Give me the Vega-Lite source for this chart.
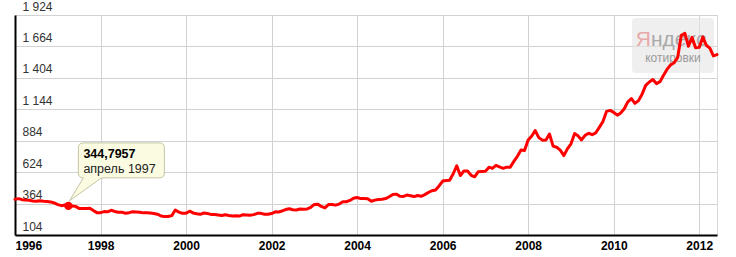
{
  "$schema": "https://vega.github.io/schema/vega-lite/v6.json",
  "width": 702,
  "height": 220,
  "autosize": {"type": "none"},
  "padding": {"left": 15, "top": 15, "right": 19, "bottom": 22},
  "background": "white",
  "config": {"font": "Liberation Sans", "view": {"stroke": "#d9d9d9", "strokeWidth": 1}},
  "datasets": {
    "gold": [
      {"d":"1996-01-01","v":399.5},{"d":"1996-02-01","v":404.8},{"d":"1996-03-01","v":396.2},{"d":"1996-04-01","v":392.8},{"d":"1996-05-01","v":391.9},{"d":"1996-06-01","v":385.3},{"d":"1996-07-01","v":383.5},{"d":"1996-08-01","v":387.5},{"d":"1996-09-01","v":383.1},{"d":"1996-10-01","v":381.1},{"d":"1996-11-01","v":377.9},{"d":"1996-12-01","v":369.0},
      {"d":"1997-01-01","v":355.0},{"d":"1997-02-01","v":346.6},{"d":"1997-03-01","v":351.8},{"d":"1997-04-01","v":344.7957},{"d":"1997-05-01","v":343.8},{"d":"1997-06-01","v":340.8},{"d":"1997-07-01","v":324.1},{"d":"1997-08-01","v":324.0},{"d":"1997-09-01","v":322.8},{"d":"1997-10-01","v":324.9},{"d":"1997-11-01","v":306.0},{"d":"1997-12-01","v":289.1},
      {"d":"1998-01-01","v":289.1},{"d":"1998-02-01","v":297.5},{"d":"1998-03-01","v":295.9},{"d":"1998-04-01","v":308.4},{"d":"1998-05-01","v":299.1},{"d":"1998-06-01","v":292.3},{"d":"1998-07-01","v":292.9},{"d":"1998-08-01","v":284.1},{"d":"1998-09-01","v":288.9},{"d":"1998-10-01","v":296.1},{"d":"1998-11-01","v":294.0},{"d":"1998-12-01","v":291.6},
      {"d":"1999-01-01","v":287.1},{"d":"1999-02-01","v":287.3},{"d":"1999-03-01","v":286.0},{"d":"1999-04-01","v":282.4},{"d":"1999-05-01","v":276.4},{"d":"1999-06-01","v":261.3},{"d":"1999-07-01","v":256.1},{"d":"1999-08-01","v":256.7},{"d":"1999-09-01","v":264.7},{"d":"1999-10-01","v":310.7},{"d":"1999-11-01","v":293.2},{"d":"1999-12-01","v":283.1},
      {"d":"2000-01-01","v":284.6},{"d":"2000-02-01","v":300.9},{"d":"2000-03-01","v":286.4},{"d":"2000-04-01","v":280.0},{"d":"2000-05-01","v":275.3},{"d":"2000-06-01","v":285.7},{"d":"2000-07-01","v":281.6},{"d":"2000-08-01","v":274.5},{"d":"2000-09-01","v":273.7},{"d":"2000-10-01","v":270.1},{"d":"2000-11-01","v":265.9},{"d":"2000-12-01","v":271.4},
      {"d":"2001-01-01","v":265.5},{"d":"2001-02-01","v":261.9},{"d":"2001-03-01","v":263.0},{"d":"2001-04-01","v":260.5},{"d":"2001-05-01","v":272.4},{"d":"2001-06-01","v":270.2},{"d":"2001-07-01","v":267.5},{"d":"2001-08-01","v":272.4},{"d":"2001-09-01","v":283.4},{"d":"2001-10-01","v":283.1},{"d":"2001-11-01","v":276.2},{"d":"2001-12-01","v":275.9},
      {"d":"2002-01-01","v":281.7},{"d":"2002-02-01","v":295.5},{"d":"2002-03-01","v":294.0},{"d":"2002-04-01","v":302.7},{"d":"2002-05-01","v":314.5},{"d":"2002-06-01","v":321.2},{"d":"2002-07-01","v":313.3},{"d":"2002-08-01","v":310.3},{"d":"2002-09-01","v":319.2},{"d":"2002-10-01","v":316.6},{"d":"2002-11-01","v":319.2},{"d":"2002-12-01","v":332.6},
      {"d":"2003-01-01","v":356.9},{"d":"2003-02-01","v":359.0},{"d":"2003-03-01","v":340.6},{"d":"2003-04-01","v":328.2},{"d":"2003-05-01","v":355.7},{"d":"2003-06-01","v":356.4},{"d":"2003-07-01","v":351.0},{"d":"2003-08-01","v":359.8},{"d":"2003-09-01","v":378.9},{"d":"2003-10-01","v":378.9},{"d":"2003-11-01","v":389.9},{"d":"2003-12-01","v":407.6},
      {"d":"2004-01-01","v":414.0},{"d":"2004-02-01","v":405.3},{"d":"2004-03-01","v":406.7},{"d":"2004-04-01","v":403.0},{"d":"2004-05-01","v":383.5},{"d":"2004-06-01","v":392.4},{"d":"2004-07-01","v":398.1},{"d":"2004-08-01","v":400.5},{"d":"2004-09-01","v":405.3},{"d":"2004-10-01","v":420.5},{"d":"2004-11-01","v":439.4},{"d":"2004-12-01","v":442.1},
      {"d":"2005-01-01","v":424.0},{"d":"2005-02-01","v":423.4},{"d":"2005-03-01","v":434.2},{"d":"2005-04-01","v":429.2},{"d":"2005-05-01","v":421.9},{"d":"2005-06-01","v":430.7},{"d":"2005-07-01","v":424.5},{"d":"2005-08-01","v":437.9},{"d":"2005-09-01","v":456.0},{"d":"2005-10-01","v":469.9},{"d":"2005-11-01","v":476.7},{"d":"2005-12-01","v":510.1},
      {"d":"2006-01-01","v":549.9},{"d":"2006-02-01","v":555.0},{"d":"2006-03-01","v":557.1},{"d":"2006-04-01","v":610.6},{"d":"2006-05-01","v":676.5},{"d":"2006-06-01","v":596.2},{"d":"2006-07-01","v":633.8},{"d":"2006-08-01","v":632.6},{"d":"2006-09-01","v":598.2},{"d":"2006-10-01","v":585.8},{"d":"2006-11-01","v":627.8},{"d":"2006-12-01","v":629.8},
      {"d":"2007-01-01","v":631.2},{"d":"2007-02-01","v":664.8},{"d":"2007-03-01","v":654.9},{"d":"2007-04-01","v":679.4},{"d":"2007-05-01","v":666.9},{"d":"2007-06-01","v":655.5},{"d":"2007-07-01","v":665.3},{"d":"2007-08-01","v":665.4},{"d":"2007-09-01","v":712.7},{"d":"2007-10-01","v":754.6},{"d":"2007-11-01","v":806.3},{"d":"2007-12-01","v":803.2},
      {"d":"2008-01-01","v":889.6},{"d":"2008-02-01","v":922.3},{"d":"2008-03-01","v":968.4},{"d":"2008-04-01","v":909.7},{"d":"2008-05-01","v":888.7},{"d":"2008-06-01","v":889.5},{"d":"2008-07-01","v":939.8},{"d":"2008-08-01","v":839.0},{"d":"2008-09-01","v":829.9},{"d":"2008-10-01","v":806.6},{"d":"2008-11-01","v":760.9},{"d":"2008-12-01","v":816.1},
      {"d":"2009-01-01","v":858.7},{"d":"2009-02-01","v":943.2},{"d":"2009-03-01","v":924.3},{"d":"2009-04-01","v":890.2},{"d":"2009-05-01","v":928.6},{"d":"2009-06-01","v":945.7},{"d":"2009-07-01","v":934.2},{"d":"2009-08-01","v":949.4},{"d":"2009-09-01","v":996.6},{"d":"2009-10-01","v":1043.2},{"d":"2009-11-01","v":1127.0},{"d":"2009-12-01","v":1134.7},
      {"d":"2010-01-01","v":1118.0},{"d":"2010-02-01","v":1095.4},{"d":"2010-03-01","v":1113.3},{"d":"2010-04-01","v":1148.7},{"d":"2010-05-01","v":1205.4},{"d":"2010-06-01","v":1232.9},{"d":"2010-07-01","v":1193.0},{"d":"2010-08-01","v":1215.8},{"d":"2010-09-01","v":1271.0},{"d":"2010-10-01","v":1342.0},{"d":"2010-11-01","v":1369.9},{"d":"2010-12-01","v":1390.6},
      {"d":"2011-01-01","v":1356.4},{"d":"2011-02-01","v":1372.7},{"d":"2011-03-01","v":1424.0},{"d":"2011-04-01","v":1473.8},{"d":"2011-05-01","v":1510.4},{"d":"2011-06-01","v":1528.7},{"d":"2011-07-01","v":1572.8},{"d":"2011-08-01","v":1755.8},{"d":"2011-09-01","v":1771.9},{"d":"2011-10-01","v":1665.2},{"d":"2011-11-01","v":1739.0},{"d":"2011-12-01","v":1652.3},
      {"d":"2012-01-01","v":1656.1},{"d":"2012-02-01","v":1742.6},{"d":"2012-03-01","v":1673.8},{"d":"2012-04-01","v":1650.1},{"d":"2012-05-01","v":1585.5},{"d":"2012-06-01","v":1596.7}
    ],
    "callout": [{"d":"1997-04-01","v":344.7957,"value":"344,7957","month":"апрель 1997"}],
    "brand": [{"a":"Я","b":"ндекс","c":"котировки"}]
  },
  "layer": [
    {
      "data": {"name": "brand"},
      "mark": {"type": "point", "shape": "M -0.37 -0.275 L 0.37 -0.275 Q 0.41 -0.275 0.41 -0.235 L 0.41 0.235 Q 0.41 0.275 0.37 0.275 L -0.37 0.275 Q -0.41 0.275 -0.41 0.235 L -0.41 -0.235 Q -0.41 -0.275 -0.37 -0.275 Z", "size": 40000, "filled": true, "fill": "#e4e4e4", "fillOpacity": 0.6, "strokeWidth": 0, "opacity": 1},
      "encoding": {
        "x": {"datum": {"year": 2011, "month": 5, "date": 22, "utc": true}, "type": "temporal", "scale": {"domain": [{"year": 1996, "month": 1, "date": 1, "utc": true}, {"year": 2012, "month": 6, "date": 1, "utc": true}], "nice": false}},
        "y": {"datum": 1671.7, "type": "quantitative", "scale": {"domain": [104, 1924], "nice": false, "zero": false}}
      }
    },
    {
      "data": {"name": "brand"},
      "mark": {"type": "text", "align": "right", "baseline": "alphabetic", "dx": -22, "dy": 1, "fontSize": 21, "color": "#e8a9a9"},
      "encoding": {
        "x": {"datum": {"year": 2011, "month": 5, "date": 22, "utc": true}, "type": "temporal", "scale": {"domain": [{"year": 1996, "month": 1, "date": 1, "utc": true}, {"year": 2012, "month": 6, "date": 1, "utc": true}], "nice": false}},
        "y": {"datum": 1671.7, "type": "quantitative", "scale": {"domain": [104, 1924], "nice": false, "zero": false}},
        "text": {"field": "a"}
      }
    },
    {
      "data": {"name": "brand"},
      "mark": {"type": "text", "align": "left", "baseline": "alphabetic", "dx": -22, "dy": 1, "fontSize": 21, "color": "#a9a9a9"},
      "encoding": {
        "x": {"datum": {"year": 2011, "month": 5, "date": 22, "utc": true}, "type": "temporal", "scale": {"domain": [{"year": 1996, "month": 1, "date": 1, "utc": true}, {"year": 2012, "month": 6, "date": 1, "utc": true}], "nice": false}},
        "y": {"datum": 1671.7, "type": "quantitative", "scale": {"domain": [104, 1924], "nice": false, "zero": false}},
        "text": {"field": "b"}
      }
    },
    {
      "data": {"name": "brand"},
      "mark": {"type": "text", "align": "center", "baseline": "middle", "dx": 0, "dy": 13, "fontSize": 12, "color": "#9a9a9a"},
      "encoding": {
        "x": {"datum": {"year": 2011, "month": 5, "date": 22, "utc": true}, "type": "temporal", "scale": {"domain": [{"year": 1996, "month": 1, "date": 1, "utc": true}, {"year": 2012, "month": 6, "date": 1, "utc": true}], "nice": false}},
        "y": {"datum": 1671.7, "type": "quantitative", "scale": {"domain": [104, 1924], "nice": false, "zero": false}},
        "text": {"field": "c"}
      }
    },
    {
      "data": {"name": "gold"},
      "mark": {"type": "line", "color": "#ff0000", "strokeWidth": 3, "strokeJoin": "round", "strokeCap": "round"},
      "encoding": {
        "x": {"field": "d", "type": "temporal", "scale": {"domain": [{"year": 1996, "month": 1, "date": 1, "utc": true}, {"year": 2012, "month": 6, "date": 1, "utc": true}], "nice": false},
          "axis": {"title": null, "format": "%Y", "tickCount": {"interval": "year", "step": 2}, "grid": true, "gridColor": "#d2d2d2", "gridWidth": 1, "ticks": false, "tickSize": 0, "labelPadding": 5, "labelFontSize": 12, "labelFontWeight": "bold", "labelColor": "#000000", "labelFlush": true, "labelOverlap": false, "domainColor": "#000000", "domainWidth": 2}},
        "y": {"field": "v", "type": "quantitative", "scale": {"domain": [104, 1924], "nice": false, "zero": false},
          "axis": {"title": null, "values": [104, 364, 624, 884, 1144, 1404, 1664, 1924], "tickCount": 20, "grid": true, "gridColor": "#d2d2d2", "gridWidth": 1, "ticks": false, "tickSize": 0, "labelAlign": "left", "labelBaseline": "alphabetic", "labelPadding": -7, "labelOffset": -5, "labelFontSize": 12, "labelColor": "#333333", "labelFlush": false, "labelOverlap": false, "labelExpr": "replace(format(datum.value, ','), ',', ' ')", "domainColor": "#000000", "domainWidth": 2}}
      }
    },
    {
      "data": {"name": "callout"},
      "mark": {"type": "point", "shape": "circle", "size": 70, "filled": true, "color": "#ff0000", "opacity": 1},
      "encoding": {
        "x": {"field": "d", "type": "temporal", "scale": {"domain": [{"year": 1996, "month": 1, "date": 1, "utc": true}, {"year": 2012, "month": 6, "date": 1, "utc": true}], "nice": false}},
        "y": {"field": "v", "type": "quantitative", "scale": {"domain": [104, 1924], "nice": false, "zero": false}}
      }
    },
    {
      "data": {"name": "callout"},
      "mark": {"type": "point", "shape": "M 0.15 -0.63 L 0.91 -0.63 Q 0.96 -0.63 0.96 -0.58 L 0.96 -0.33 Q 0.96 -0.28 0.91 -0.28 L 0.33 -0.28 L 0.01 -0.05 L 0.15 -0.28 Q 0.10 -0.28 0.10 -0.33 L 0.10 -0.58 Q 0.10 -0.63 0.15 -0.63 Z", "size": 40000, "filled": true, "fill": "#fbfbe2", "stroke": "#c4c4a6", "strokeWidth": 1, "opacity": 1},
      "encoding": {
        "x": {"field": "d", "type": "temporal", "scale": {"domain": [{"year": 1996, "month": 1, "date": 1, "utc": true}, {"year": 2012, "month": 6, "date": 1, "utc": true}], "nice": false}},
        "y": {"field": "v", "type": "quantitative", "scale": {"domain": [104, 1924], "nice": false, "zero": false}}
      }
    },
    {
      "data": {"name": "callout"},
      "mark": {"type": "text", "align": "left", "baseline": "middle", "dx": 15, "dy": -52, "fontSize": 12.5, "fontWeight": "bold", "color": "#000000"},
      "encoding": {
        "x": {"field": "d", "type": "temporal", "scale": {"domain": [{"year": 1996, "month": 1, "date": 1, "utc": true}, {"year": 2012, "month": 6, "date": 1, "utc": true}], "nice": false}},
        "y": {"field": "v", "type": "quantitative", "scale": {"domain": [104, 1924], "nice": false, "zero": false}},
        "text": {"field": "value"}
      }
    },
    {
      "data": {"name": "callout"},
      "mark": {"type": "text", "align": "left", "baseline": "middle", "dx": 15, "dy": -37, "fontSize": 12.5, "color": "#222222"},
      "encoding": {
        "x": {"field": "d", "type": "temporal", "scale": {"domain": [{"year": 1996, "month": 1, "date": 1, "utc": true}, {"year": 2012, "month": 6, "date": 1, "utc": true}], "nice": false}},
        "y": {"field": "v", "type": "quantitative", "scale": {"domain": [104, 1924], "nice": false, "zero": false}},
        "text": {"field": "month"}
      }
    }
  ]
}
